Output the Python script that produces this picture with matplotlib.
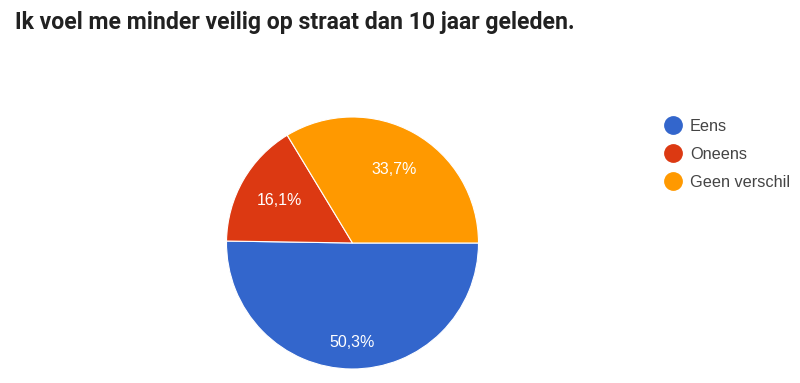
import matplotlib.pyplot as plt
from matplotlib.lines import Line2D

# Data
labels = ['Eens', 'Oneens', 'Geen verschil']
values = [50.3, 16.1, 33.7]
colors = ['#3366CC', '#DC3912', '#FF9900']
title = 'Ik voel me minder veilig op straat dan 10 jaar geleden.'

plt.rcParams['font.family'] = ['Liberation Sans', 'DejaVu Sans']

fig = plt.figure(figsize=(8, 3.83), dpi=100)
fig.patch.set_facecolor('white')

total = sum(values)

# pie axes: center (352, 243) px, radius 126 px
ax = fig.add_axes([(352.5 - 126) / 800, (383 - 243 - 126) / 383, 252 / 800, 252 / 383])
wedges, texts, autotexts = ax.pie(
    values, colors=colors, startangle=0, counterclock=False,
    autopct=lambda p: f'{p * total / 100:.1f}%'.replace('.', ','), pctdistance=0.67,
    wedgeprops=dict(edgecolor='white', linewidth=0.8),
    textprops=dict(color='white', fontsize=11.5))
# blue label sits a bit further out in the reference
x, y = autotexts[0].get_position()
autotexts[0].set_position((x * 0.79 / 0.67, y * 0.79 / 0.67))
ax.set_xlim(-1, 1)
ax.set_ylim(-1, 1)
ax.set_aspect('equal')

fig.text(15 / 800, 1 - 22 / 383, title, fontsize=16.6, fontweight='bold',
         family=['Roboto', 'DejaVu Sans'], color='#212121', va='center', ha='left')

handles = [Line2D([0], [0], marker='o', linestyle='', markersize=12.5,
                  markerfacecolor=c, markeredgecolor=c) for c in colors]
fig.legend(handles, labels, loc='upper left', bbox_to_anchor=(663 / 800, 1 - 119 / 383),
           frameon=False, fontsize=11.7, labelcolor='#444444', handletextpad=0.45,
           labelspacing=0.8, handlelength=1.2, borderaxespad=0, borderpad=0)

fig.savefig('out.png', dpi=100, facecolor='white')
